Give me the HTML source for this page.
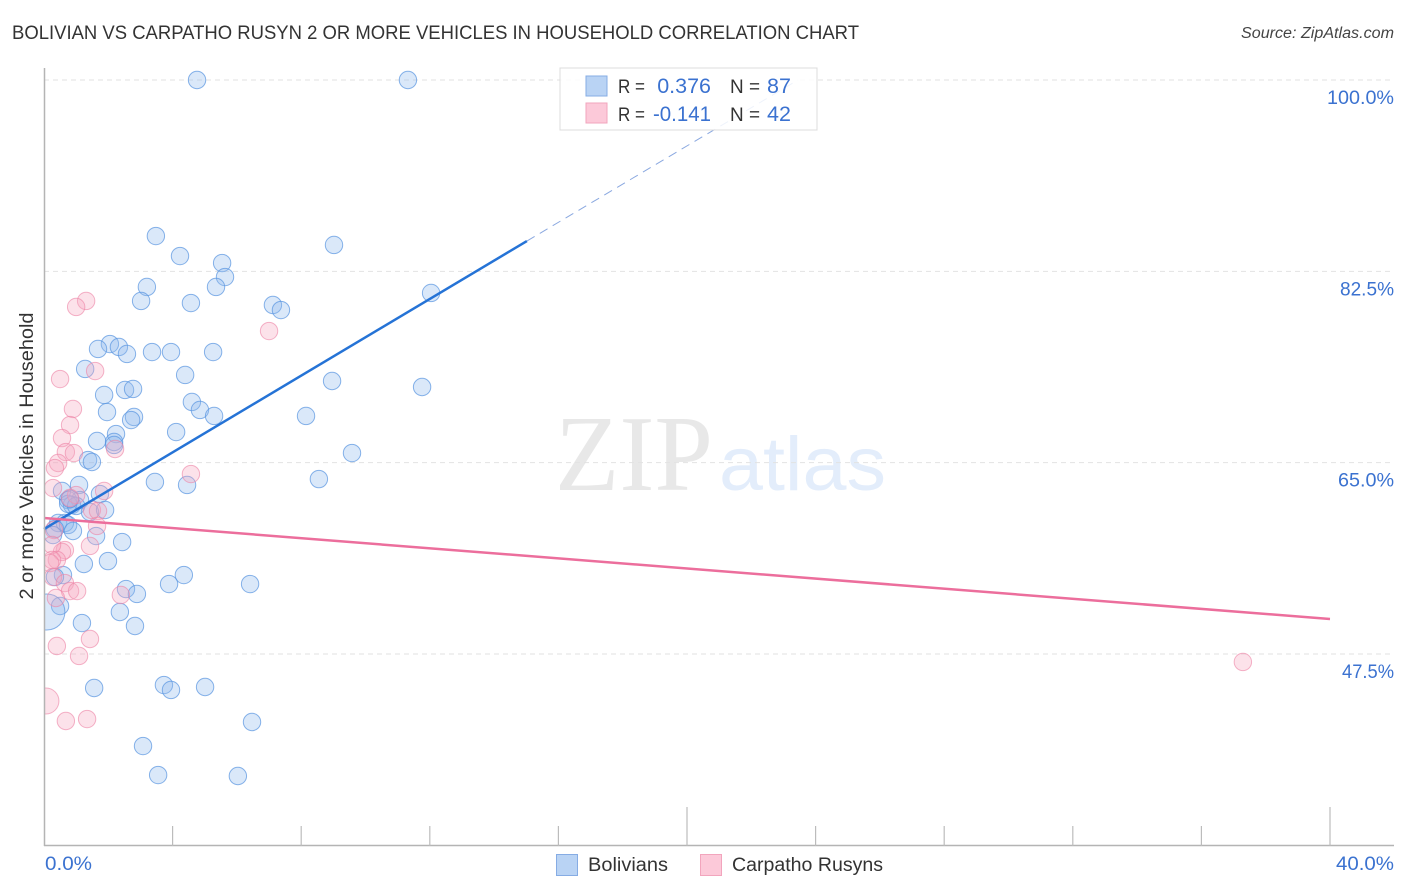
<!DOCTYPE html>
<html lang="en">
<head>
<meta charset="utf-8">
<title>Bolivian vs Carpatho Rusyn 2 or more Vehicles in Household Correlation Chart</title>
<style>
html,body{margin:0;padding:0;background:#fff;}
svg{display:block;font-family:"Liberation Sans",sans-serif;}
</style>
</head>
<body>
<svg id="chart" xmlns="http://www.w3.org/2000/svg" width="1406" height="892" viewBox="0 0 1406 892">
  <defs><clipPath id="plot-clip"><rect x="44.5" y="60" width="1350" height="786"/></clipPath></defs>
  <rect width="1406" height="892" fill="#fff"/>
  <text x="12" y="39" font-size="19" fill="#333" textLength="847" lengthAdjust="spacingAndGlyphs">BOLIVIAN VS CARPATHO RUSYN 2 OR MORE VEHICLES IN HOUSEHOLD CORRELATION CHART</text>
  <text x="1394" y="38" font-size="15.5" font-style="italic" fill="#444" text-anchor="end" textLength="153" lengthAdjust="spacingAndGlyphs">Source: ZipAtlas.com</text>
  <g>
    <text x="555" y="490" font-family="'Liberation Serif',serif" font-size="108" fill="#e8e8e8" textLength="158" lengthAdjust="spacingAndGlyphs">ZIP</text>
    <text x="719" y="490" font-size="76" fill="#e3edfb" textLength="167" lengthAdjust="spacingAndGlyphs">atlas</text>
  </g>
  <g id="grid"></g>
  <g id="points" clip-path="url(#plot-clip)"></g>
  <g id="trends"></g>
  <g id="axes"></g>
  <text transform="translate(33,456) rotate(-90)" font-size="19" fill="#333" text-anchor="middle" textLength="287" lengthAdjust="spacingAndGlyphs">2 or more Vehicles in Household</text>
  <g>
    <rect x="560" y="68" width="257" height="62" fill="#fff" fill-opacity="0.86" stroke="#dcdcdc" stroke-width="1"/>
    <rect x="580" y="78" width="217" height="4" fill="#fff"/>
    <rect x="586" y="76" width="21" height="20" fill="#b9d3f4" stroke="#86ace4" stroke-width="1"/>
    <rect x="586" y="103" width="21" height="20" fill="#fcc9d9" stroke="#f2a5bd" stroke-width="1"/>
    <text x="618" y="93" font-size="19.5" fill="#333" textLength="27" lengthAdjust="spacingAndGlyphs">R =</text>
    <text x="711" y="93" font-size="21.5" fill="#3b72d0" text-anchor="end">0.376</text>
    <text x="730" y="93" font-size="19.5" fill="#333" textLength="30" lengthAdjust="spacingAndGlyphs">N =</text>
    <text x="767" y="93" font-size="21.5" fill="#3b72d0">87</text>
    <text x="618" y="121" font-size="19.5" fill="#333" textLength="27" lengthAdjust="spacingAndGlyphs">R =</text>
    <text x="711" y="121" font-size="21.5" fill="#3b72d0" text-anchor="end" textLength="58" lengthAdjust="spacingAndGlyphs">-0.141</text>
    <text x="730" y="121" font-size="19.5" fill="#333" textLength="30" lengthAdjust="spacingAndGlyphs">N =</text>
    <text x="767" y="121" font-size="21.5" fill="#3b72d0">42</text>
  </g>
  <g>
    <rect x="556.5" y="854.5" width="21" height="21" fill="#b9d3f4" stroke="#86ace4" stroke-width="1"/>
    <text x="588" y="871" font-size="19" fill="#333" textLength="80" lengthAdjust="spacingAndGlyphs">Bolivians</text>
    <rect x="700.5" y="854.5" width="21" height="21" fill="#fcc9d9" stroke="#f2a5bd" stroke-width="1"/>
    <text x="732" y="871" font-size="19" fill="#333" textLength="151" lengthAdjust="spacingAndGlyphs">Carpatho Rusyns</text>
  </g>
</svg>
<script>
const yTickValues = [100, 82.5, 65, 47.5];
const yTickLabels = ["100.0%", "82.5%", "65.0%", "47.5%"];
const xTickValues = [4, 8, 12, 16, 20, 24, 28, 32, 36, 40];
const xMajorTicks = [20, 40];
const xEndLabels = ["0.0%", "40.0%"];

const bolivianX = [4.76,11.32,3.48,4.23,9.02,5.54,5.63,5.35,3.20,3.02,4.57,7.12,7.37,12.04,2.05,1.68,2.33,2.58,3.36,3.95,5.26,1.28,4.39,2.52,2.77,1.87,8.96,11.76,4.60,4.85,5.29,8.15,1.96,2.80,2.71,4.11,2.24,1.65,2.18,2.18,9.58,1.37,1.49,3.45,4.45,8.55,1.09,0.56,1.74,1.12,0.75,0.87,0.75,1.00,0.81,1.43,1.90,0.44,0.65,0.75,0.90,0.34,0.28,1.62,2.43,1.99,1.24,0.59,0.34,4.35,3.89,6.41,2.55,2.89,0.50,2.36,2.83,1.18,1.56,3.73,3.95,5.01,6.47,3.08,3.55,6.03];
const bolivianY = [100,100,85.73,83.90,84.91,83.26,81.98,81.07,81.07,79.79,79.60,79.42,78.96,80.52,75.85,75.40,75.58,74.94,75.12,75.12,75.12,73.57,73.02,71.65,71.74,71.19,72.47,71.92,70.55,69.82,69.27,69.27,69.63,69.18,68.90,67.80,67.62,66.98,66.89,66.62,65.88,65.24,65.06,63.23,62.96,63.50,62.96,62.41,62.13,61.58,61.58,61.13,61.22,61.04,61.68,60.49,60.67,59.48,59.48,59.30,58.75,58.93,58.38,58.29,57.74,56.00,55.73,54.72,54.54,54.72,53.90,53.90,53.44,52.99,51.89,51.34,50.06,50.33,44.39,44.66,44.21,44.48,41.28,39.08,36.43,36.34];
const bolivianLargeX = [0.09];
const bolivianLargeY = [51.34];

const carpathoX = [1.31,1.00,7.00,1.59,0.50,0.90,0.81,0.56,0.68,0.93,0.44,0.34,2.21,4.57,0.28,1.87,1.00,0.81,1.49,1.68,1.65,0.31,1.43,0.65,0.56,0.25,0.40,0.25,0.19,0.28,0.65,0.81,1.03,0.37,2.39,1.43,0.40,1.09,1.34,0.68,37.29];
const carpathoY = [79.79,79.24,77.04,73.38,72.65,69.91,68.44,67.25,65.97,65.88,64.97,64.51,66.25,63.96,62.68,62.41,62.04,61.77,60.67,60.58,59.21,58.84,57.38,57.01,56.83,57.47,56.10,56.10,55.82,54.54,53.99,53.26,53.26,52.62,52.90,48.87,48.23,47.32,41.55,41.37,46.77];
const carpathoLargeX = [0.06];
const carpathoLargeY = [43.20];

const bolivianTrendX = [0, 15.02];
const bolivianTrendY = [58.93, 85.27];
const bolivianProjectionX = [15.02, 23.45];
const bolivianProjectionY = [85.27, 100];
const carpathoTrendX = [0, 40];
const carpathoTrendY = [59.94, 50.70];

const SVG_NS = "http://www.w3.org/2000/svg";
function xScale(v) { return 44 + v / 40 * 1286; }
function yScale(v) { return 80 + (100 - v) / 17.5 * 191.33; }
function make(tag, attrs, parent) {
  const el = document.createElementNS(SVG_NS, tag);
  for (const k in attrs) el.setAttribute(k, attrs[k]);
  parent.appendChild(el);
  return el;
}

const grid = document.getElementById("grid");
const axes = document.getElementById("axes");
const points = document.getElementById("points");
const trends = document.getElementById("trends");
const yLabelWidths = [67, 54, 56, 52];

yTickValues.forEach(function (v, i) {
  const line = make("line", {x1: 44, x2: 1394, y1: yScale(v), y2: yScale(v), stroke: "#e2e2e2", "stroke-width": 1, "stroke-dasharray": "5 4"}, grid);
  
  
  const label = make("text", {x: 1394, y: yScale(v) + 24, "font-size": 19, fill: "#3b72d0", "text-anchor": "end", textLength: yLabelWidths[i], lengthAdjust: "spacingAndGlyphs"}, axes);
  label.textContent = yTickLabels[i];
  
  
});

const yAxis = make("line", {x1: 44.5, x2: 44.5, y1: 68, y2: 846, stroke: "#b4b4b4", "stroke-width": 1.5}, axes);


const xAxis = make("line", {x1: 44, x2: 1394, y1: 845.5, y2: 845.5, stroke: "#b4b4b4", "stroke-width": 1.5}, axes);



xTickValues.forEach(function (v) {
  const major = xMajorTicks.indexOf(v) >= 0;
  const tick = make("line", {x1: xScale(v), x2: xScale(v), y1: major ? 807 : 826, y2: 846, stroke: "#bcbcbc", "stroke-width": 1.2}, axes);
  
  
});

const xLabelLeft = make("text", {x: 45, y: 870, "font-size": 19, fill: "#3b72d0", textLength: 47, lengthAdjust: "spacingAndGlyphs"}, axes);
xLabelLeft.textContent = xEndLabels[0];


const xLabelRight = make("text", {x: 1394, y: 870, "font-size": 19, fill: "#3b72d0", "text-anchor": "end", textLength: 58, lengthAdjust: "spacingAndGlyphs"}, axes);
xLabelRight.textContent = xEndLabels[1];



bolivianX.forEach(function (v, i) {
  const dot = make("circle", {cx: xScale(v), cy: yScale(bolivianY[i]), r: 8.7, fill: "#8fb8ee", "fill-opacity": 0.33, stroke: "#5a96e0", "stroke-opacity": 0.72, "stroke-width": 1}, points);
  
  
});
bolivianLargeX.forEach(function (v, i) {
  const dot = make("circle", {cx: xScale(v), cy: yScale(bolivianLargeY[i]), r: 18, fill: "#8fb8ee", "fill-opacity": 0.33, stroke: "#5a96e0", "stroke-opacity": 0.72, "stroke-width": 1}, points);
  
  
});
carpathoX.forEach(function (v, i) {
  const dot = make("circle", {cx: xScale(v), cy: yScale(carpathoY[i]), r: 8.7, fill: "#f7a8c0", "fill-opacity": 0.33, stroke: "#ee84a6", "stroke-opacity": 0.62, "stroke-width": 1}, points);
  
  
});
carpathoLargeX.forEach(function (v, i) {
  const dot = make("circle", {cx: xScale(v), cy: yScale(carpathoLargeY[i]), r: 13, fill: "#f7a8c0", "fill-opacity": 0.33, stroke: "#ee84a6", "stroke-opacity": 0.62, "stroke-width": 1}, points);
  
  
});

const blueTrend = make("line", {x1: xScale(bolivianTrendX[0]), y1: yScale(bolivianTrendY[0]), x2: xScale(bolivianTrendX[1]), y2: yScale(bolivianTrendY[1]), stroke: "#2573d6", "stroke-width": 2.5}, trends);


const blueProjection = make("line", {x1: xScale(bolivianProjectionX[0]), y1: yScale(bolivianProjectionY[0]), x2: xScale(bolivianProjectionX[1]), y2: yScale(bolivianProjectionY[1]), stroke: "#8aa8e0", "stroke-width": 1, "stroke-dasharray": "9 6"}, trends);


const pinkTrend = make("line", {x1: xScale(carpathoTrendX[0]), y1: yScale(carpathoTrendY[0]), x2: xScale(carpathoTrendX[1]), y2: yScale(carpathoTrendY[1]), stroke: "#ec6e9c", "stroke-width": 2.5}, trends);


</script>
</body>
</html>
